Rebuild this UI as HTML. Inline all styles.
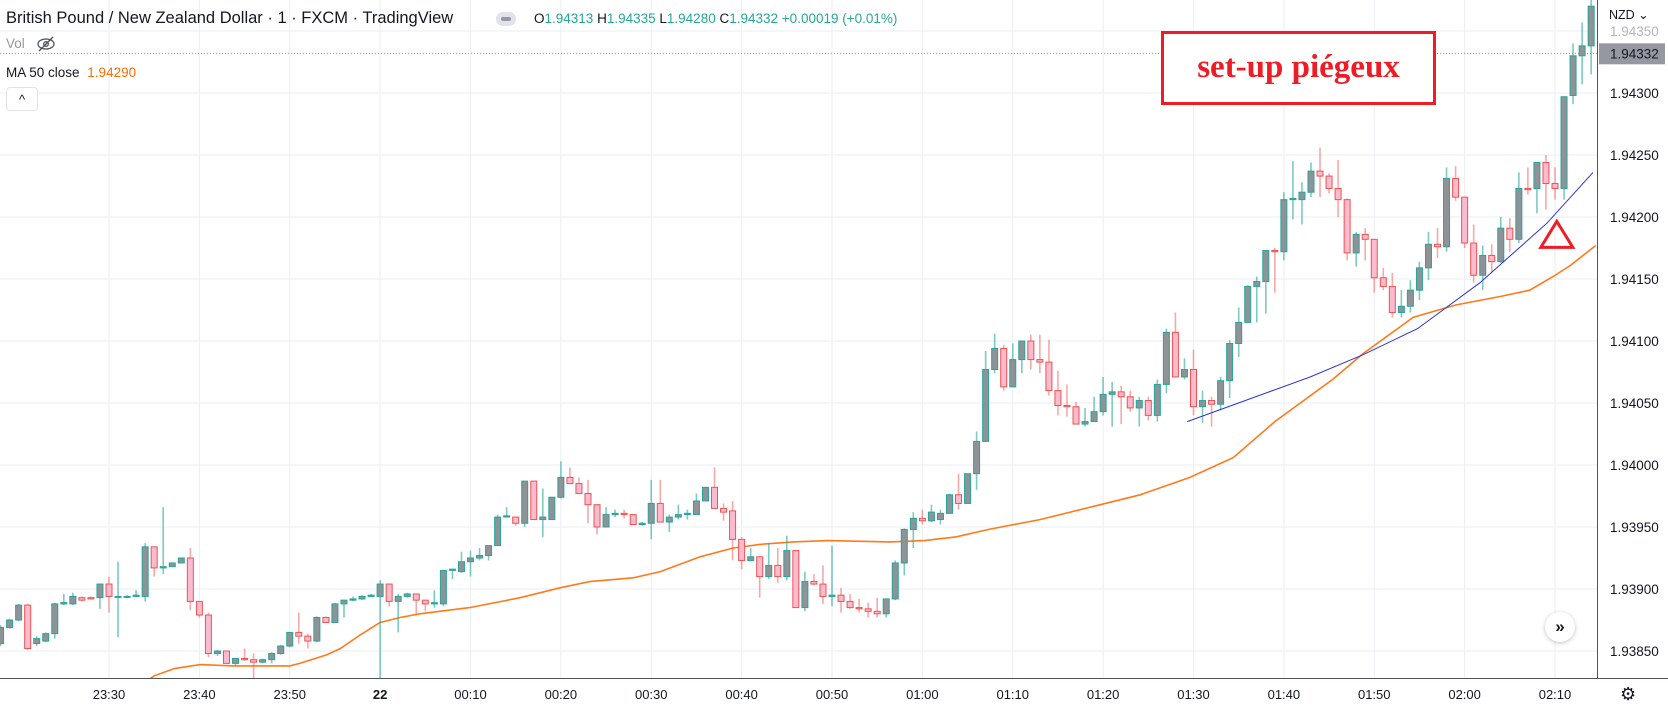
<!DOCTYPE html>
<html><head><meta charset="utf-8">
<style>
html,body{margin:0;padding:0;background:#fff;}
#wrap{position:relative;width:1668px;height:711px;overflow:hidden;font-family:"Liberation Sans",sans-serif;}
svg{position:absolute;left:0;top:0;}
.hdr{position:absolute;white-space:nowrap;color:#131722;}
</style></head>
<body>
<div id="wrap">
<svg id="chart" width="1668" height="711"></svg>
<div class="hdr" style="left:6px;top:9px;font-size:16.5px;">British Pound / New Zealand Dollar · 1 · FXCM · TradingView</div>
<div class="hdr" style="left:496px;top:12px;width:20px;height:14px;background:#e0e3eb;border-radius:8px;"><div style="position:absolute;left:5px;top:5px;width:10px;height:4px;background:#9598a1;border-radius:2px;"></div></div>
<div class="hdr" style="left:534px;top:11px;font-size:13.5px;">O<span style="color:#26a69a">1.94313</span> H<span style="color:#26a69a">1.94335</span> L<span style="color:#26a69a">1.94280</span> C<span style="color:#26a69a">1.94332</span> <span style="color:#26a69a">+0.00019 (+0.01%)</span></div>
<div class="hdr" style="left:6px;top:36px;font-size:13.5px;color:#9598a1;">Vol</div>
<svg style="left:36px;top:35px;" width="20" height="18"><ellipse cx="10" cy="9" rx="8" ry="5" fill="none" stroke="#50535e" stroke-width="1.3"/><circle cx="10" cy="9" r="2.3" fill="none" stroke="#50535e" stroke-width="1.3"/><line x1="3" y1="16" x2="17" y2="2" stroke="#50535e" stroke-width="1.3"/></svg>
<div class="hdr" style="left:6px;top:65px;font-size:13.5px;">MA 50 close <span style="color:#ff6d00;margin-left:4px">1.94290</span></div>
<div class="hdr" style="left:6px;top:87px;width:30px;height:22px;border:1px solid #e0e3eb;border-radius:4px;background:#fff;text-align:center;font-size:13px;line-height:24px;">^</div>
<div class="hdr" style="left:1161px;top:31px;width:269px;height:68px;border:3px solid #ee1c25;background:#fff;color:#ee1c25;font-family:'Liberation Serif',serif;font-weight:bold;font-size:33px;text-align:center;line-height:66px;">set-up piégeux</div>
<div class="hdr" style="left:1545px;top:612px;width:30px;height:30px;border-radius:50%;background:#fff;box-shadow:0 1px 4px rgba(0,0,0,0.25);text-align:center;line-height:29px;font-size:17px;font-weight:bold;">»</div>
<div class="hdr" style="left:1609px;top:7px;font-size:12.5px;color:#131722;">NZD ⌄</div>
<div class="hdr" style="left:1620px;top:684px;font-size:18px;color:#131722;">⚙</div>
</div>
<script>
const openPrices=[1.93856,1.93869,1.93875,1.93887,1.93856,1.93858,1.93864,1.93888,1.93888,1.93893,
1.93893,1.93893,1.93904,1.93894,1.93894,1.93894,1.93894,1.93934,1.93917,1.93918,
1.93921,1.93925,1.93890,1.93879,1.93848,1.93850,1.93840,1.93844,1.93843,1.93841,
1.93843,1.93848,1.93854,1.93865,1.93862,1.93858,1.93877,1.93873,1.93888,1.93891,
1.93892,1.93894,1.93894,1.93904,1.93890,1.93894,1.93896,1.93891,1.93888,1.93888,
1.93915,1.93914,1.93922,1.93925,1.93927,1.93935,1.93958,1.93958,1.93953,1.93987,
1.93956,1.93956,1.93974,1.93990,1.93985,1.93977,1.93968,1.93950,1.93960,1.93961,
1.93960,1.93952,1.93953,1.93969,1.93954,1.93958,1.93960,1.93960,1.93971,1.93982,
1.93965,1.93963,1.93940,1.93923,1.93926,1.93910,1.93919,1.93910,1.93931,1.93885,
1.93906,1.93904,1.93894,1.93895,1.93890,1.93885,1.93884,1.93882,1.93880,1.93892,
1.93921,1.93948,1.93957,1.93955,1.93956,1.93961,1.93976,1.93969,1.93993,1.94019,
1.94077,1.94094,1.94063,1.94085,1.94100,1.94085,1.94083,1.94060,1.94048,1.94047,
1.94033,1.94035,1.94043,1.94057,1.94059,1.94055,1.94046,1.94052,1.94040,1.94065,
1.94107,1.94071,1.94077,1.94047,1.94052,1.94049,1.94068,1.94098,1.94115,1.94144,
1.94148,1.94173,1.94172,1.94214,1.94214,1.94220,1.94237,1.94233,1.94223,1.94214,
1.94171,1.94186,1.94182,1.94151,1.94144,1.94123,1.94128,1.94141,1.94159,1.94178,
1.94176,1.94231,1.94216,1.94179,1.94153,1.94169,1.94164,1.94191,1.94182,1.94223,
1.94223,1.94244,1.94227,1.94223,1.94298,1.94330,1.94338];
const highPrices=[1.93871,1.93876,1.93888,1.93888,1.93862,1.93865,1.93889,1.93896,1.93897,1.93894,
1.93894,1.93904,1.93910,1.93922,1.93895,1.93899,1.93937,1.93934,1.93966,1.93921,
1.93925,1.93933,1.93890,1.93881,1.93851,1.93850,1.93844,1.93852,1.93848,1.93844,
1.93849,1.93855,1.93865,1.93881,1.93864,1.93878,1.93878,1.93889,1.93891,1.93894,
1.93895,1.93896,1.93907,1.93904,1.93896,1.93897,1.93896,1.93891,1.93899,1.93915,
1.93916,1.93930,1.93931,1.93933,1.93935,1.93960,1.93966,1.93958,1.93987,1.93987,
1.93981,1.93974,1.94003,1.93998,1.93990,1.93988,1.93968,1.93966,1.93964,1.93964,
1.93960,1.93954,1.93988,1.93988,1.93960,1.93968,1.93964,1.93977,1.93982,1.93998,
1.93969,1.93971,1.93942,1.93933,1.93926,1.93937,1.93933,1.93943,1.93931,1.93914,
1.93912,1.93919,1.93935,1.93901,1.93896,1.93892,1.93889,1.93893,1.93892,1.93923,
1.93949,1.93962,1.93964,1.93968,1.93964,1.93977,1.93993,1.93993,1.94027,1.94092,
1.94106,1.94097,1.94098,1.94100,1.94105,1.94105,1.94101,1.94076,1.94065,1.94051,
1.94046,1.94055,1.94071,1.94067,1.94064,1.94060,1.94055,1.94055,1.94069,1.94110,
1.94123,1.94086,1.94093,1.94060,1.94055,1.94071,1.94101,1.94127,1.94145,1.94152,
1.94173,1.94175,1.94220,1.94245,1.94228,1.94244,1.94256,1.94235,1.94246,1.94215,
1.94188,1.94191,1.94182,1.94159,1.94155,1.94141,1.94149,1.94164,1.94188,1.94191,
1.94240,1.94241,1.94216,1.94194,1.94177,1.94178,1.94200,1.94199,1.94236,1.94240,
1.94244,1.94250,1.94240,1.94297,1.94340,1.94357,1.94375];
const lowPrices=[1.93854,1.93868,1.93874,1.93851,1.93854,1.93857,1.93860,1.93887,1.93887,1.93890,
1.93892,1.93884,1.93881,1.93861,1.93893,1.93894,1.93890,1.93910,1.93912,1.93918,
1.93921,1.93883,1.93877,1.93845,1.93846,1.93840,1.93838,1.93842,1.93827,1.93840,
1.93840,1.93847,1.93853,1.93856,1.93852,1.93857,1.93873,1.93873,1.93877,1.93890,
1.93891,1.93894,1.93827,1.93886,1.93865,1.93893,1.93880,1.93882,1.93885,1.93886,
1.93908,1.93913,1.93910,1.93923,1.93923,1.93935,1.93958,1.93951,1.93950,1.93956,
1.93942,1.93956,1.93973,1.93985,1.93977,1.93953,1.93944,1.93950,1.93958,1.93957,
1.93952,1.93951,1.93940,1.93954,1.93946,1.93956,1.93956,1.93960,1.93971,1.93965,
1.93955,1.93923,1.93916,1.93923,1.93893,1.93908,1.93905,1.93907,1.93885,1.93882,
1.93903,1.93888,1.93886,1.93881,1.93884,1.93881,1.93877,1.93877,1.93877,1.93891,
1.93911,1.93933,1.93952,1.93954,1.93952,1.93961,1.93964,1.93969,1.93980,1.94019,
1.94074,1.94060,1.94063,1.94074,1.94077,1.94074,1.94056,1.94040,1.94039,1.94033,
1.94031,1.94035,1.94040,1.94031,1.94033,1.94043,1.94031,1.94036,1.94035,1.94058,
1.94071,1.94069,1.94040,1.94034,1.94031,1.94044,1.94054,1.94087,1.94115,1.94115,
1.94122,1.94139,1.94165,1.94198,1.94194,1.94216,1.94216,1.94219,1.94200,1.94165,
1.94160,1.94165,1.94139,1.94141,1.94119,1.94119,1.94123,1.94133,1.94149,1.94167,
1.94172,1.94213,1.94175,1.94147,1.94141,1.94155,1.94163,1.94172,1.94179,1.94218,
1.94203,1.94206,1.94214,1.94214,1.94291,1.94307,1.94315];
const closePrices=[1.93869,1.93875,1.93887,1.93852,1.93860,1.93864,1.93888,1.93889,1.93894,1.93891,
1.93892,1.93904,1.93894,1.93894,1.93894,1.93895,1.93934,1.93917,1.93918,1.93921,
1.93925,1.93890,1.93879,1.93848,1.93850,1.93840,1.93844,1.93843,1.93841,1.93843,
1.93848,1.93854,1.93865,1.93862,1.93858,1.93877,1.93873,1.93888,1.93891,1.93892,
1.93894,1.93895,1.93904,1.93890,1.93894,1.93896,1.93891,1.93888,1.93889,1.93915,
1.93916,1.93922,1.93925,1.93927,1.93935,1.93958,1.93959,1.93953,1.93987,1.93956,
1.93958,1.93974,1.93990,1.93985,1.93977,1.93968,1.93950,1.93960,1.93961,1.93960,
1.93952,1.93953,1.93969,1.93954,1.93958,1.93960,1.93961,1.93971,1.93982,1.93965,
1.93962,1.93940,1.93923,1.93926,1.93910,1.93919,1.93910,1.93931,1.93885,1.93906,
1.93904,1.93894,1.93895,1.93890,1.93885,1.93884,1.93882,1.93880,1.93892,1.93921,
1.93948,1.93957,1.93955,1.93962,1.93961,1.93976,1.93969,1.93993,1.94019,1.94077,
1.94094,1.94063,1.94085,1.94100,1.94085,1.94083,1.94060,1.94048,1.94047,1.94033,
1.94035,1.94043,1.94057,1.94059,1.94055,1.94046,1.94052,1.94040,1.94065,1.94107,
1.94071,1.94077,1.94047,1.94052,1.94049,1.94068,1.94098,1.94115,1.94144,1.94148,
1.94173,1.94172,1.94214,1.94215,1.94220,1.94237,1.94233,1.94223,1.94214,1.94171,
1.94186,1.94182,1.94151,1.94144,1.94123,1.94128,1.94141,1.94159,1.94178,1.94176,
1.94231,1.94216,1.94179,1.94153,1.94169,1.94164,1.94191,1.94182,1.94223,1.94222,
1.94244,1.94227,1.94223,1.94297,1.94330,1.94338,1.94370];
const maIndex=[15,17,19.3,22.1,25.7,32,33.1,36.1,37.6,39.8,42,44.2,46.4,51.9,57.5,61.9,65.2,70,73,77.4,81,84,87.7,91.5,98.4,102.2,105.7,109.3,115,121.7,126.1,131.6,136.4,141,147.4,150.8,156.3,161,166,169.2,171.8,173.7,176.5];
const maValues=[1.93820,1.93830,1.93836,1.93839,1.93838,1.93838,1.93840,1.93847,1.93852,1.93863,1.93873,1.93877,1.93880,1.93885,1.93893,1.93901,1.93906,1.93909,1.93914,1.93926,1.93933,1.93936,1.93938,1.93939,1.93938,1.93939,1.93942,1.93948,1.93956,1.93968,1.93976,1.93990,1.94006,1.94035,1.94069,1.94090,1.94119,1.94129,1.94136,1.94141,1.94152,1.94161,1.94177];
const trendIndex=[131.3,144.9,150.8,156.8,163.7,171.1,176.2];
const trendValues=[1.94035,1.94071,1.94089,1.94110,1.94147,1.94195,1.94236];
const priceTicks=[1.94350,1.94300,1.94250,1.94200,1.94150,1.94100,1.94050,1.94000,1.93950,1.93900,1.93850];
const priceTickLabels=["1.94350","1.94300","1.94250","1.94200","1.94150","1.94100","1.94050","1.94000","1.93950","1.93900","1.93850"];
const timeTickIndex=[12,22,32,42,52,62,72,82,92,102,112,122,132,142,152,162,172];
const timeTickLabels=["23:30","23:40","23:50","22","00:10","00:20","00:30","00:40","00:50","01:00","01:10","01:20","01:30","01:40","01:50","02:00","02:10"];
const lastPrice=1.94332;
const signalIndex=172.2;
const signalPrice=1.94190;

const NS="http://www.w3.org/2000/svg";
const svg=document.getElementById('chart');
const plotW=1597, plotH=678;
function xOf(i){return 0.55+i*9.0375;}
function yOf(p){return 465-(p-1.94)*124000;}
function mk(tag,attrs,parent){const e=document.createElementNS(NS,tag);for(const k in attrs)e.setAttribute(k,attrs[k]);(parent||svg).appendChild(e);return e;}

const defs=mk('defs',{});
const cp=mk('clipPath',{id:'plotclip'},defs);
mk('rect',{x:0,y:0,width:plotW,height:plotH},cp);

const grid=mk('g',{});


priceTicks.forEach(p=>{const l=mk('line',{x1:0,x2:plotW,y1:yOf(p),y2:yOf(p),stroke:'#edf1f6','stroke-width':1.2},grid);

});
timeTickIndex.forEach(i=>{const l=mk('line',{x1:xOf(i),x2:xOf(i),y1:0,y2:plotH,stroke:'#edf1f6','stroke-width':1.2},grid);

});

const plot=mk('g',{'clip-path':'url(#plotclip)'});



const ll=mk('line',{x1:0,x2:plotW,y1:yOf(lastPrice),y2:yOf(lastPrice),stroke:'#9598a1','stroke-width':1,'stroke-dasharray':'1,2'},plot);



let maPts=maIndex.map((v,k)=>xOf(v).toFixed(1)+','+yOf(maValues[k]).toFixed(1)).join(' ');
const ma=mk('polyline',{points:maPts,fill:'none',stroke:'#ff7a1a','stroke-width':1.6},plot);



const cg=mk('g',{},plot);


for(let i=0;i<closePrices.length;i++){
  const o=openPrices[i],c=closePrices[i],h=highPrices[i],lo=lowPrices[i];
  const bull=c>=o;
  const x=xOf(i);
  const g=mk('g',{},cg);
  
  
  mk('line',{x1:x,x2:x,y1:yOf(h),y2:yOf(lo),stroke:bull?'rgba(38,166,154,0.6)':'rgba(239,83,80,0.5)','stroke-width':1.6},g);
  const top=yOf(Math.max(o,c)),bot=yOf(Math.min(o,c));
  mk('rect',{x:x-3,y:top,width:6,height:Math.max(1,bot-top),fill:bull?'#8f9297':'#f8bbd0',stroke:bull?'#26a69a':'#ef5350','stroke-width':1},g);
}

let tPts=trendIndex.map((v,k)=>xOf(v).toFixed(1)+','+yOf(trendValues[k]).toFixed(1)).join(' ');
const tl=mk('polyline',{points:tPts,fill:'none',stroke:'#2b35d6','stroke-width':1},plot);



const sx=xOf(signalIndex),sy=yOf(signalPrice);
const tri=mk('polygon',{points:`${sx},${sy-8} ${sx-16},${sy+18} ${sx+16},${sy+18}`,fill:'none',stroke:'#ee1c25','stroke-width':3},plot);



const ax=mk('g',{});


mk('line',{x1:plotW+0.5,x2:plotW+0.5,y1:0,y2:plotH,stroke:'#50535e','stroke-width':1},ax);
priceTicks.forEach((p,k)=>{const t=mk('text',{x:1610,y:yOf(p)+5,'font-size':13.5,'font-family':'Liberation Sans, sans-serif',fill:k===0?'#b2b5be':'#131722'},ax);
t.textContent=priceTickLabels[k];

});
const lb=mk('rect',{x:1599,y:yOf(lastPrice)-10,width:66,height:21,fill:'#9598a1'},ax);


const lt=mk('text',{x:1610,y:yOf(lastPrice)+5,'font-size':13.5,'font-family':'Liberation Sans, sans-serif',fill:'#131722'},ax);
lt.textContent=lastPrice.toFixed(5);



const tx=mk('g',{});


mk('line',{x1:0,x2:1668,y1:plotH+0.5,y2:plotH+0.5,stroke:'#50535e','stroke-width':1},tx);
timeTickIndex.forEach((i,k)=>{const t=mk('text',{x:xOf(i),y:699,'font-size':13,'text-anchor':'middle','font-family':'Liberation Sans, sans-serif',fill:'#131722','font-weight':timeTickLabels[k]==='22'?'bold':'normal'},tx);
t.textContent=timeTickLabels[k];

});
</script>
</body></html>
